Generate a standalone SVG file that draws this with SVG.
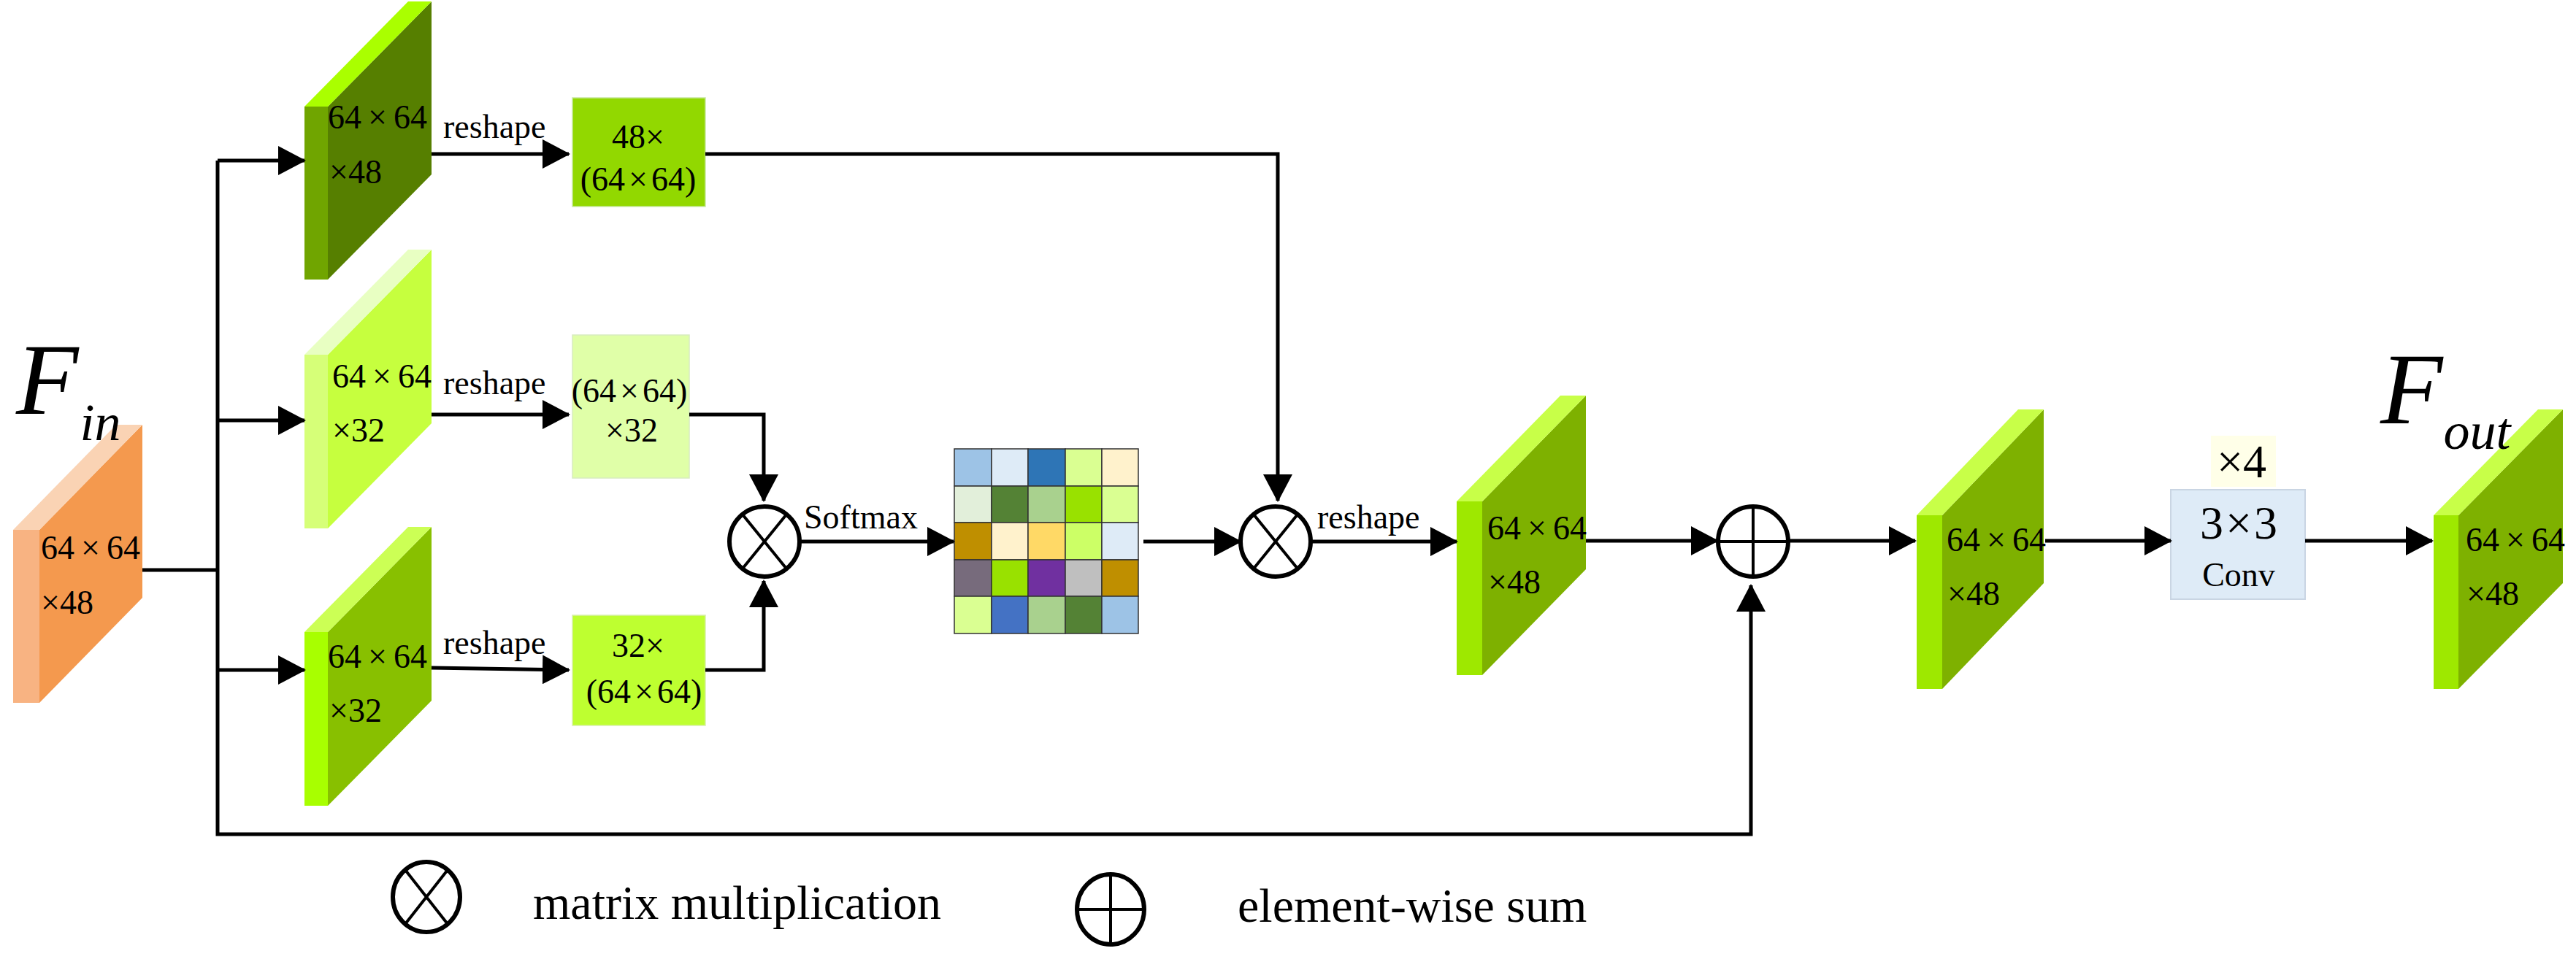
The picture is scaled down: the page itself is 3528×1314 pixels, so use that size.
<svg xmlns="http://www.w3.org/2000/svg" width="3528" height="1314" viewBox="0 0 3528 1314">
<style>
text{font-family:"Liberation Serif","Times New Roman",serif;fill:#000}
.lbl{font-size:46px}
.big{font-size:64px}
.leg{font-size:66px}
.it{font-style:italic}
.ln{fill:none;stroke:#000;stroke-width:5}
.op{fill:#fff;stroke:#000;stroke-width:6}
.opl{stroke:#000;stroke-width:4;fill:none}
.cell{stroke:#333;stroke-width:1.5}
.o-s{fill:#F8B382}.o-f{fill:#F4994E}.o-t{fill:#FAD3B4}
.a-s{fill:#70A500}.a-f{fill:#567F00}.a-t{fill:#AAFF00}
.b-s{fill:#D6FF78}.b-f{fill:#C6FF3E}.b-t{fill:#E8FFC2}
.c-s{fill:#A8FF00}.c-f{fill:#88C000}.c-t{fill:#CCFF55}
.g-s{fill:#9EE800}.g-f{fill:#7EB100}.g-t{fill:#C8FF48}
</style>
<defs>
<marker id="ah" markerUnits="userSpaceOnUse" markerWidth="40" markerHeight="40" refX="36" refY="20" orient="auto">
<path d="M0,0 L38,20 L0,40 z" fill="#000"/>
</marker>
</defs>
<rect width="3528" height="1314" fill="#fff"/>

<g id="fin">
<rect class="o-s" x="18" y="726" width="36" height="237"/>
<polygon class="o-f" points="54,726 195,582 195,819 54,963"/>
<polygon class="o-t" points="18,726 54,726 195,582 159,582"/>
<text class="lbl" x="56" y="766">64<tspan dx="9">×</tspan><tspan dx="9">64</tspan></text>
<text class="lbl" x="56" y="841">×48</text>
</g>
<g id="fin-label">
<text class="it" x="22" y="567" style="font-size:140px">F<tspan dx="2" dy="36" style="font-size:72px">in</tspan></text>
</g>

<g id="slab-v">
<rect class="a-s" x="417" y="146" width="32" height="237"/>
<polygon class="a-f" points="449,146 591,2 591,239 449,383"/>
<polygon class="a-t" points="417,146 449,146 591,2 559,2"/>
<text class="lbl" x="449" y="176">64<tspan dx="9">×</tspan><tspan dx="9">64</tspan></text>
<text class="lbl" x="451" y="251">×48</text>
</g>
<g id="slab-k">
<rect class="b-s" x="417" y="486" width="32" height="238"/>
<polygon class="b-f" points="449,486 591,342 591,580 449,724"/>
<polygon class="b-t" points="417,486 449,486 591,342 559,342"/>
<text class="lbl" x="455" y="531">64<tspan dx="9">×</tspan><tspan dx="9">64</tspan></text>
<text class="lbl" x="455" y="605">×32</text>
</g>
<g id="slab-q">
<rect class="c-s" x="417" y="866" width="32" height="238"/>
<polygon class="c-f" points="449,866 591,722 591,960 449,1104"/>
<polygon class="c-t" points="417,866 449,866 591,722 559,722"/>
<text class="lbl" x="449" y="915">64<tspan dx="9">×</tspan><tspan dx="9">64</tspan></text>
<text class="lbl" x="451" y="989">×32</text>
</g>

<g id="rect-v">
<rect x="784" y="134" width="182" height="149" fill="#92D800" stroke="#C8E8A0" stroke-width="1.5"/>
<text class="lbl" x="874" y="203" text-anchor="middle">48×</text>
<text class="lbl" x="874" y="261" text-anchor="middle">(64<tspan dx="5">×</tspan><tspan dx="5">64)</tspan></text>
</g>
<g id="rect-k">
<rect x="784" y="459" width="160" height="196" fill="#E0FFA8" stroke="#D8ECC0" stroke-width="1.5"/>
<text class="lbl" x="862" y="551" text-anchor="middle">(64<tspan dx="5">×</tspan><tspan dx="5">64)</tspan></text>
<text class="lbl" x="865" y="605" text-anchor="middle">×32</text>
</g>
<g id="rect-q">
<rect x="784" y="843" width="182" height="151" fill="#BEFF30" stroke="#D8F0A8" stroke-width="1.5"/>
<text class="lbl" x="874" y="900" text-anchor="middle">32×</text>
<text class="lbl" x="882" y="963" text-anchor="middle">(64<tspan dx="5">×</tspan><tspan dx="5">64)</tspan></text>
</g>

<g id="mul1">
<circle class="op" cx="1047" cy="742" r="48"/>
<path class="opl" d="M1017,705 L1077,779 M1077,705 L1017,779"/>
</g>
<g id="softmax-label"><text class="lbl" x="1101" y="724">Softmax</text></g>

<g id="matrix">
<rect class="cell" x="1307" y="615" width="51" height="51" fill="#9DC3E6"/>
<rect class="cell" x="1358" y="615" width="50" height="51" fill="#DEEBF7"/>
<rect class="cell" x="1408" y="615" width="51" height="51" fill="#2E75B6"/>
<rect class="cell" x="1459" y="615" width="50" height="51" fill="#DAFF92"/>
<rect class="cell" x="1509" y="615" width="50" height="51" fill="#FFF2CC"/>
<rect class="cell" x="1307" y="666" width="51" height="50" fill="#E2EFDA"/>
<rect class="cell" x="1358" y="666" width="50" height="50" fill="#548235"/>
<rect class="cell" x="1408" y="666" width="51" height="50" fill="#A9D18E"/>
<rect class="cell" x="1459" y="666" width="50" height="50" fill="#99E100"/>
<rect class="cell" x="1509" y="666" width="50" height="50" fill="#DAFF92"/>
<rect class="cell" x="1307" y="716" width="51" height="51" fill="#BF8F00"/>
<rect class="cell" x="1358" y="716" width="50" height="51" fill="#FFF2CC"/>
<rect class="cell" x="1408" y="716" width="51" height="51" fill="#FFD966"/>
<rect class="cell" x="1459" y="716" width="50" height="51" fill="#CCFF66"/>
<rect class="cell" x="1509" y="716" width="50" height="51" fill="#DEEBF7"/>
<rect class="cell" x="1307" y="767" width="51" height="50" fill="#776B7C"/>
<rect class="cell" x="1358" y="767" width="50" height="50" fill="#99E100"/>
<rect class="cell" x="1408" y="767" width="51" height="50" fill="#7030A0"/>
<rect class="cell" x="1459" y="767" width="50" height="50" fill="#BFBFBF"/>
<rect class="cell" x="1509" y="767" width="50" height="50" fill="#BF8F00"/>
<rect class="cell" x="1307" y="817" width="51" height="51" fill="#DAFF92"/>
<rect class="cell" x="1358" y="817" width="50" height="51" fill="#4472C4"/>
<rect class="cell" x="1408" y="817" width="51" height="51" fill="#A9D18E"/>
<rect class="cell" x="1459" y="817" width="50" height="51" fill="#548235"/>
<rect class="cell" x="1509" y="817" width="50" height="51" fill="#9DC3E6"/>
</g>

<g id="mul2">
<circle class="op" cx="1747" cy="742" r="48"/>
<path class="opl" d="M1717,705 L1777,779 M1777,705 L1717,779"/>
</g>

<g id="slab-attn">
<rect class="g-s" x="1995" y="687" width="35" height="238"/>
<polygon class="g-f" points="2030,687 2172,542 2172,780 2030,925"/>
<polygon class="g-t" points="1995,687 2030,687 2172,542 2137,542"/>
<text class="lbl" x="2037" y="739">64<tspan dx="9">×</tspan><tspan dx="9">64</tspan></text>
<text class="lbl" x="2038" y="813">×48</text>
</g>

<g id="sum">
<circle class="op" cx="2401" cy="742" r="48"/>
<path class="opl" d="M2401,694 L2401,790 M2353,742 L2449,742"/>
</g>

<g id="slab-sum">
<rect class="g-s" x="2625" y="706" width="35" height="238"/>
<polygon class="g-f" points="2660,706 2799,561 2799,799 2660,944"/>
<polygon class="g-t" points="2625,706 2660,706 2799,561 2764,561"/>
<text class="lbl" x="2666" y="755">64<tspan dx="9">×</tspan><tspan dx="9">64</tspan></text>
<text class="lbl" x="2667" y="829">×48</text>
</g>

<g id="conv">
<rect x="3028" y="597" width="89" height="70" fill="#FFFFE8"/>
<text class="big" x="3070" y="654" text-anchor="middle">×4</text>
<rect x="2973" y="671" width="184" height="150" fill="#DEEBF7" stroke="#C9D5E3" stroke-width="2"/>
<text class="big" x="3066" y="738" text-anchor="middle">3<tspan dx="3">×</tspan><tspan dx="3">3</tspan></text>
<text class="lbl" x="3066" y="803" text-anchor="middle">Conv</text>
</g>

<g id="fout">
<rect class="g-s" x="3333" y="706" width="34" height="238"/>
<polygon class="g-f" points="3367,706 3510,561 3510,799 3367,944"/>
<polygon class="g-t" points="3333,706 3367,706 3510,561 3476,561"/>
<text class="lbl" x="3377" y="755">64<tspan dx="9">×</tspan><tspan dx="9">64</tspan></text>
<text class="lbl" x="3378" y="829">×48</text>
</g>
<g id="fout-label">
<text class="it" x="3260" y="580" style="font-size:140px">F<tspan dx="1" dy="35" style="font-size:72px">out</tspan></text>
</g>

<g id="connectors">
<path class="ln" d="M195,781 L298,781"/>
<path class="ln" d="M298,220 L298,1143 L2398,1143 L2398,802" marker-end="url(#ah)"/>
<path class="ln" d="M298,220 L417,220" marker-end="url(#ah)"/>
<path class="ln" d="M298,576 L417,576" marker-end="url(#ah)"/>
<path class="ln" d="M298,918 L417,918" marker-end="url(#ah)"/>
<path class="ln" d="M591,211 L779,211" marker-end="url(#ah)"/>
<path class="ln" d="M591,568 L779,568" marker-end="url(#ah)"/>
<path class="ln" d="M591,915 L779,918" marker-end="url(#ah)"/>
<path class="ln" d="M966,211 L1750,211 L1750,686" marker-end="url(#ah)"/>
<path class="ln" d="M944,568 L1046,568 L1046,686" marker-end="url(#ah)"/>
<path class="ln" d="M966,918 L1046,918 L1046,796" marker-end="url(#ah)"/>
<path class="ln" d="M1095,742 L1306,742" marker-end="url(#ah)"/>
<path class="ln" d="M1566,742 L1699,742" marker-end="url(#ah)"/>
<path class="ln" d="M1795,742 L1995,742" marker-end="url(#ah)"/>
<path class="ln" d="M2172,741 L2352,741" marker-end="url(#ah)"/>
<path class="ln" d="M2449,741 L2623,741" marker-end="url(#ah)"/>
<path class="ln" d="M2801,741 L2973,741" marker-end="url(#ah)"/>
<path class="ln" d="M3157,741 L3331,741" marker-end="url(#ah)"/>
</g>
<g id="reshape-labels">
<text class="lbl" x="607" y="189">reshape</text>
<text class="lbl" x="607" y="540">reshape</text>
<text class="lbl" x="607" y="896">reshape</text>
<text class="lbl" x="1804" y="724">reshape</text>
</g>

<g id="legend-mul">
<ellipse class="op" cx="584" cy="1229" rx="46" ry="48"/>
<path class="opl" d="M555,1192 L613,1266 M613,1192 L555,1266"/>
<text class="leg" x="730" y="1259">matrix multiplication</text>
</g>
<g id="legend-sum">
<ellipse class="op" cx="1521" cy="1246" rx="46" ry="48"/>
<path class="opl" d="M1521,1198 L1521,1294 M1475,1246 L1567,1246"/>
<text class="leg" x="1695" y="1263">element-wise sum</text>
</g>
</svg>
